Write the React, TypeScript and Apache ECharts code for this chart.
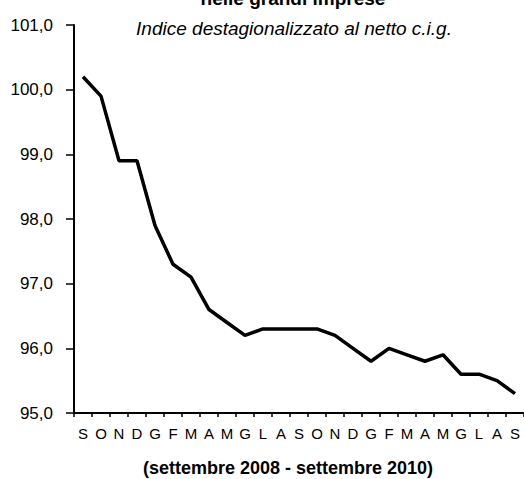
import React, { useEffect, useRef } from "react";
import * as echarts from "echarts";

const months = ["S","O","N","D","G","F","M","A","M","G","L","A","S","O","N","D","G","F","M","A","M","G","L","A","S"];
const values = [100.2, 99.9, 98.9, 98.9, 97.9, 97.3, 97.1, 96.6, 96.4, 96.2, 96.3, 96.3, 96.3, 96.3, 96.2, 96.0, 95.8, 96.0, 95.9, 95.8, 95.9, 95.6, 95.6, 95.5, 95.3];
const yMin = 95;
const yMax = 101;
const yStep = 1;

export default function App() {
  const ref = useRef<HTMLDivElement>(null);
  useEffect(() => {
    if (!ref.current) return;
    const chart = echarts.init(ref.current, null, { renderer: "svg" });
    chart.setOption({
      animation: false,
      backgroundColor: "#ffffff",
      textStyle: { fontFamily: "Liberation Sans, Arial, sans-serif" },
      title: [
        {
          text: "nelle grandi imprese",
          left: 288, top: -16, textAlign: "center",
          textStyle: { fontSize: 19, fontWeight: "bold", color: "#000" },
        },
        {
          text: "Indice destagionalizzato al netto c.i.g.",
          left: 289, top: 14, textAlign: "center",
          textStyle: { fontSize: 19, fontStyle: "italic", fontWeight: "normal", color: "#000" },
        },
        {
          text: "(settembre 2008 - settembre 2010)",
          left: 283, top: 454, textAlign: "center",
          textStyle: { fontSize: 18, fontWeight: "bold", color: "#000" },
        },
      ],
      grid: { left: 74, top: 25, width: 453, bottom: 66, containLabel: false },
      xAxis: {
        type: "category",
        data: months,
        boundaryGap: true,
        axisLine: { lineStyle: { color: "#000", width: 2 } },
        axisTick: { show: true, length: 4, lineStyle: { color: "#000", width: 1.5 } },
        axisLabel: { color: "#000", fontSize: 15, margin: 13, interval: 0 },
        splitLine: { show: false },
      },
      yAxis: {
        type: "value",
        min: yMin, max: yMax, interval: yStep,
        axisLine: { show: true, lineStyle: { color: "#000", width: 2 } },
        axisTick: { show: true, length: 8, lineStyle: { color: "#000", width: 1.5 } },
        axisLabel: {
          color: "#000", fontSize: 17, margin: 21,
          formatter: (v: number) => v.toFixed(1).replace(".", ","),
        },
        splitLine: { show: false },
      },
      series: [
        {
          type: "line",
          data: values,
          symbol: "none",
          lineStyle: { color: "#000", width: 3.5 },
        },
      ],
    });
    return () => chart.dispose();
  }, []);
  return <div ref={ref} style={{ position: "fixed", left: 0, top: 0, width: 524, height: 479 }} />;
}
